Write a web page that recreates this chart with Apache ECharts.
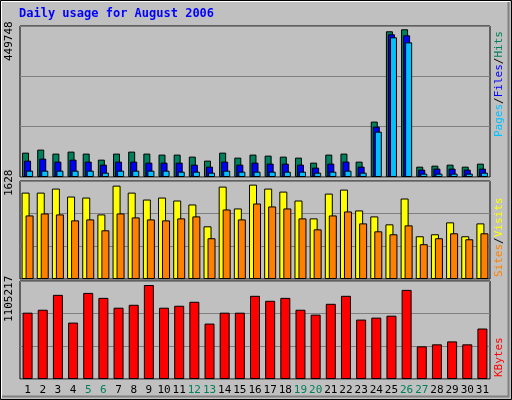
<!DOCTYPE html>
<html><head><meta charset="utf-8">
<script src="https://cdn.jsdelivr.net/npm/echarts@6/dist/echarts.min.js"></script>
<style>html,body{margin:0;padding:0;background:#c0c0c0}#c{width:512px;height:400px}</style>
</head><body><div id="c"></div>
<script>
const days = Array.from({length:31},(_,i)=>String(i+1));
const weekend = ['5','6','12','13','19','20','26','27'];
const hits = [72600,81600,69700,75600,69700,51700,69700,75600,69700,66700,66700,60700,48800,72600,57700,66700,63700,60700,57700,42800,66700,69700,45800,165000,434000,440000,30800,33800,36800,30800,39800];
const files = [48800,54700,45800,51700,45800,36800,45800,45800,42800,42800,42800,36800,30800,45800,36800,42800,39800,39800,36800,27900,39800,45800,30800,150000,425000,422000,21900,24900,24900,21900,24900];
const pages = [18900,18900,18900,18900,18900,12900,18900,18900,18900,18900,15900,15900,12900,18900,15900,15900,15900,15900,15900,12900,15900,18900,12900,135000,416000,401000,10000,10000,10000,10000,12900];
const visits = [1435,1435,1502,1370,1353,1073,1551,1435,1320,1353,1304,1238,875,1535,1172,1568,1502,1452,1304,1007,1419,1485,1139,1040,908,1337,710,743,941,710,924];
const sites = [1056,1089,1073,974,990,809,1089,1023,990,974,1007,1040,677,1155,990,1254,1205,1172,1007,825,1056,1122,924,792,743,891,578,677,759,660,759];
const kbytes = [748000,781000,949000,636000,971000,915000,804000,837000,1060000,804000,826000,871000,625000,748000,748000,938000,882000,915000,781000,726000,848000,938000,670000,692000,714000,1005000,368000,391000,424000,391000,569000];
const maxTop = 449748, maxMid = 1628, maxBot = 1105217;

const font = 'DejaVu Sans Mono';
const grids = [
  {left:20,right:22,top:26,height:151},
  {left:20,right:22,top:181,height:98},
  {left:20,right:22,top:281,height:98}
];
function xAxis(i, show){
  return {type:'category',gridIndex:i,data:days,boundaryGap:true,
    axisLine:{show:false},axisTick:{show:false},splitLine:{show:false},
    axisLabel:{show:show,interval:0,margin:6,fontFamily:font,fontSize:11,
      color:(v)=>weekend.includes(v)?'#00805c':'#000000'}};
}
function yAxis(i,max){
  return {type:'value',gridIndex:i,min:0,max:max,interval:max/3,
    axisLabel:{show:false},axisLine:{show:false},axisTick:{show:false},
    splitLine:{show:true,lineStyle:{color:'#808080',width:1}}};
}
const bs = {borderColor:'#000',borderWidth:1};
function bar(name,data,gi,color,w,gap){
  return {name,type:'bar',xAxisIndex:gi,yAxisIndex:gi,data,barWidth:w,barGap:gap,
    itemStyle:Object.assign({color},bs),animation:false,silent:true};
}
const chart = echarts.init(document.getElementById('c'));
chart.setOption({
  backgroundColor:'#c0c0c0',
  animation:false,
  grid:grids.map(g=>Object.assign({show:true,borderColor:'#000',borderWidth:1,backgroundColor:'transparent'},g)),
  xAxis:[xAxis(0,false),xAxis(1,false),xAxis(2,true)],
  yAxis:[yAxis(0,maxTop),yAxis(1,maxMid),yAxis(2,maxBot)],
  series:[
    bar('Hits',hits,0,'#00805c',7,'-71%'),
    bar('Files',files,0,'#0000ff',7,'-71%'),
    bar('Pages',pages,0,'#00c0ff',7,'-71%'),
    bar('Visits',visits,1,'#ffff00',8,'-50%'),
    bar('Sites',sites,1,'#ff8000',8,'-50%'),
    bar('KBytes',kbytes,2,'#ff0000',10,'0%')
  ],
  graphic:[
    {type:'rect',shape:{x:0.5,y:0.5,width:511,height:399},style:{fill:'none',stroke:'#000',lineWidth:1},silent:true},
    {type:'polyline',shape:{points:[[1.5,398],[1.5,1.5],[510,1.5]]},style:{stroke:'#fff',lineWidth:1,fill:'none'}},
    {type:'polyline',shape:{points:[[2,396.5],[508.5,396.5],[508.5,2]]},style:{stroke:'#808080',lineWidth:2,fill:'none'}},
    {type:'text',left:19,top:8,style:{text:'Daily usage for August 2006',fontFamily:font,fontSize:12,fontWeight:'bold',fill:'#0000ff'}},
    {type:'text',x:4,y:61,rotation:Math.PI/2,style:{text:String(maxTop),fontFamily:font,fontSize:11,fill:'#000'}},
    {type:'text',x:4,y:196,rotation:Math.PI/2,style:{text:String(maxMid),fontFamily:font,fontSize:11,fill:'#000'}},
    {type:'text',x:4,y:322,rotation:Math.PI/2,style:{text:String(maxBot),fontFamily:font,fontSize:11,fill:'#000'}},
    {type:'text',x:494,y:137,rotation:Math.PI/2,style:{text:'{a|Pages}{s|/}{b|Files}{s|/}{c|Hits}',fontFamily:font,fontSize:11,
      rich:{a:{fill:'#00c0ff',fontFamily:font,fontSize:11},b:{fill:'#0000ff',fontFamily:font,fontSize:11},c:{fill:'#00805c',fontFamily:font,fontSize:11},s:{fill:'#000',fontFamily:font,fontSize:11}}}},
    {type:'text',x:494,y:277,rotation:Math.PI/2,style:{text:'{a|Sites}{s|/}{b|Visits}',fontFamily:font,fontSize:11,
      rich:{a:{fill:'#ff8000',fontFamily:font,fontSize:11},b:{fill:'#ffff00',fontFamily:font,fontSize:11},s:{fill:'#000',fontFamily:font,fontSize:11}}}},
    {type:'text',x:494,y:377,rotation:Math.PI/2,style:{text:'KBytes',fontFamily:font,fontSize:11,fill:'#ff0000'}}
  ]
});
</script></body></html>
